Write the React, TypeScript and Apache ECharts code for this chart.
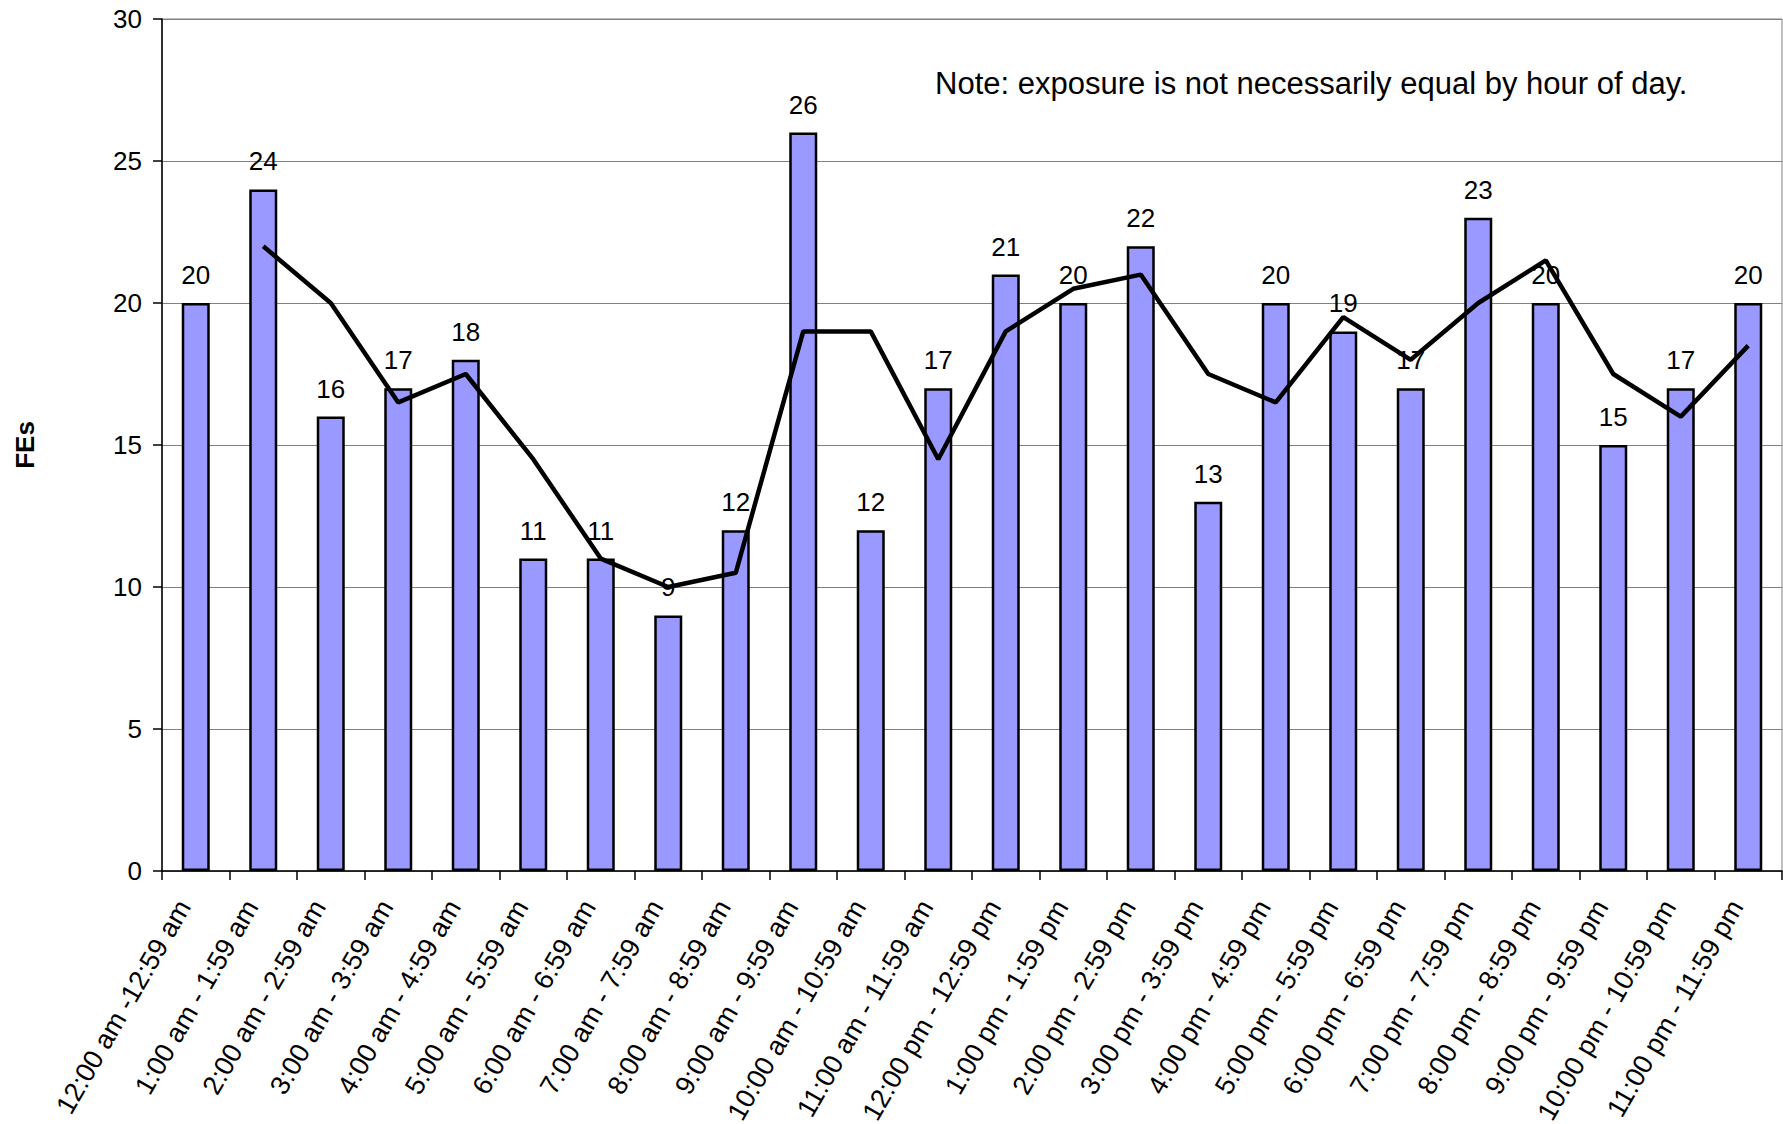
import React, { useEffect, useRef } from "react";
import * as echarts from "echarts";

const categories = [
  "12:00 am -12:59 am",
  "1:00 am - 1:59 am",
  "2:00 am - 2:59 am",
  "3:00 am - 3:59 am",
  "4:00 am - 4:59 am",
  "5:00 am - 5:59 am",
  "6:00 am - 6:59 am",
  "7:00 am - 7:59 am",
  "8:00 am - 8:59 am",
  "9:00 am - 9:59 am",
  "10:00 am - 10:59 am",
  "11:00 am - 11:59 am",
  "12:00 pm - 12:59 pm",
  "1:00 pm - 1:59 pm",
  "2:00 pm - 2:59 pm",
  "3:00 pm - 3:59 pm",
  "4:00 pm - 4:59 pm",
  "5:00 pm - 5:59 pm",
  "6:00 pm - 6:59 pm",
  "7:00 pm - 7:59 pm",
  "8:00 pm - 8:59 pm",
  "9:00 pm - 9:59 pm",
  "10:00 pm - 10:59 pm",
  "11:00 pm - 11:59 pm",
];

const feCounts = [20, 24, 16, 17, 18, 11, 11, 9, 12, 26, 12, 17, 21, 20, 22, 13, 20, 19, 17, 23, 20, 15, 17, 20];

const trendValues: (number | string)[] = [
  "-", 22, 20, 16.5, 17.5, 14.5, 11, 10, 10.5, 19, 19, 14.5, 19, 20.5, 21, 17.5, 16.5, 19.5, 18, 20, 21.5, 17.5, 16, 18.5,
];

const yTicks = { min: 0, max: 30, interval: 5 };
const yAxisName = "FEs";
const noteText = "Note: exposure is not necessarily equal by hour of day.";

const FONT = "'Liberation Sans', Arial, sans-serif";

export default function App() {
  const ref = useRef<HTMLDivElement>(null);
  useEffect(() => {
    if (!ref.current) return;
    const chart = echarts.init(ref.current, undefined, { renderer: "svg" });
    chart.setOption({
      animation: false,
      backgroundColor: "#ffffff",
      textStyle: { fontFamily: FONT },
      grid: {
        left: 162,
        top: 19,
        right: 1,
        bottom: 253,
        show: true,
        borderColor: "#808080",
        borderWidth: 1,
        containLabel: false,
        outerBoundsMode: "none",
      },
      xAxis: {
        type: "category",
        data: categories,
        boundaryGap: true,
        axisLine: { show: true, lineStyle: { color: "#000", width: 1.5 } },
        axisTick: { show: true, inside: false, length: 9, alignWithLabel: false, lineStyle: { color: "#000", width: 1.5 } },
        axisLabel: {
          interval: 0,
          rotate: 60,
          margin: 38,
          verticalAlign: "bottom",
          color: "#000",
          fontSize: 27,
          fontFamily: FONT,
        },
      },
      yAxis: {
        type: "value",
        min: yTicks.min,
        max: yTicks.max,
        interval: yTicks.interval,
        name: yAxisName,
        nameLocation: "middle",
        nameGap: 124,
        nameRotate: 90,
        nameTextStyle: { fontSize: 26, fontWeight: "bold", color: "#000", fontFamily: FONT },
        axisLine: { show: true, lineStyle: { color: "#000", width: 1.5 } },
        axisTick: { show: true, inside: false, length: 9, lineStyle: { color: "#000", width: 1.5 } },
        axisLabel: { color: "#000", fontSize: 26, margin: 20, fontFamily: FONT },
        splitLine: { show: true, lineStyle: { color: "#808080", width: 1.2 } },
      },
      series: [
        {
          type: "bar",
          data: feCounts,
          barWidth: 28,
          itemStyle: { color: "#9999FF", borderColor: "#000", borderWidth: 2.5 },
          label: {
            show: true,
            position: "top",
            distance: 15,
            color: "#000",
            fontSize: 26,
            fontFamily: FONT,
          },
          z: 2,
        },
        {
          type: "line",
          data: trendValues,
          showSymbol: false,
          symbol: "none",
          lineStyle: { color: "#000", width: 4.5 },
          connectNulls: false,
          z: 3,
        },
      ],
      graphic: [
        {
          type: "text",
          left: 935,
          top: 68,
          style: {
            text: noteText,
            fill: "#000",
            fontSize: 31,
            fontFamily: FONT,
          },
        },
      ],
    });
    return () => chart.dispose();
  }, []);
  return (
    <div
      ref={ref}
      style={{ position: "fixed", left: 0, top: 0, width: 1783, height: 1124, background: "#fff" }}
    />
  );
}
